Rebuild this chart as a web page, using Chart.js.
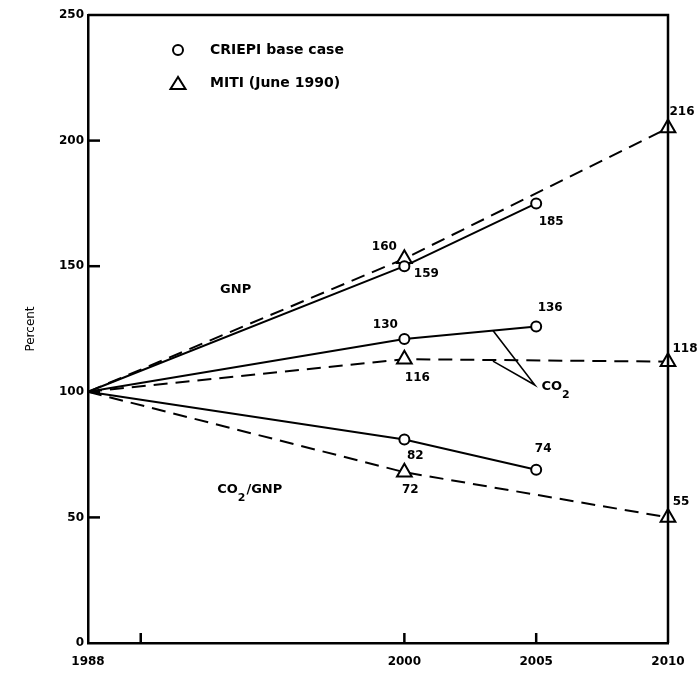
<!DOCTYPE html>
<html><head><meta charset="utf-8">
<script src="https://cdn.jsdelivr.net/npm/chart.js@4.4.1/dist/chart.umd.min.js"></script>
<style>html,body{margin:0;padding:0;background:#fff;}</style>
</head><body>
<canvas id="c" width="698" height="677"></canvas>
<script>
// ---- data ----
const yearsCriepi = [1988, 2000, 2005];
const yearsMiti   = [1988, 2000, 2010];
const gnpCriepi   = [100, 150, 175];
const gnpMiti     = [100, 153, 205];
const co2Criepi   = [100, 121, 126];
const co2Miti     = [100, 113, 112];
const ratioCriepi = [100, 81, 69];
const ratioMiti   = [100, 68, 50];
// printed value labels
const gnpCriepiLabels   = ['', '159', '185'];
const gnpMitiLabels     = ['', '160', '216'];
const co2CriepiLabels   = ['', '130', '136'];
const co2MitiLabels     = ['', '116', '118'];
const ratioCriepiLabels = ['', '82', '74'];
const ratioMitiLabels   = ['', '72', '55'];
// ticks
const yTicks = [0, 50, 100, 150, 200, 250];
const xTicks = [1988, 1990, 2000, 2005, 2010];
const xTickLabels = ['1988', '', '2000', '2005', '2010'];
const legendNames = ['CRIEPI base case', 'MITI (June 1990)'];

const FONT = '"DejaVu Sans", Arial, sans-serif';
const pts = (xs, ys) => xs.map((x, i) => ({x: x, y: ys[i]}));

function solid(ys, labels) {
  return {data: pts(yearsCriepi, ys), valueLabels: labels,
    borderColor: '#000', borderWidth: 2, pointStyle: 'circle',
    pointRadius: [0, 5, 5], pointBorderWidth: 2, pointBorderColor: '#000',
    pointBackgroundColor: '#fff', fill: false, tension: 0, clip: false};
}
function dashed(ys, labels) {
  return {data: pts(yearsMiti, ys), valueLabels: labels,
    borderColor: '#000', borderWidth: 2, borderDash: [14, 8], pointStyle: 'triangle',
    pointRadius: [0, 8.5, 8.5], pointBorderWidth: 2, pointBorderColor: '#000',
    pointBackgroundColor: '#fff', fill: false, tension: 0, clip: false};
}

// label offsets (pixels) relative to the point
const labelOffsets = [
  [[0,0],[22,8],[15,18]],     // gnp criepi
  [[0,0],[-20,-12],[14,-16]], // gnp miti
  [[0,0],[-19,-14],[14,-19]], // co2 criepi
  [[0,0],[13,19],[17,-13]],   // co2 miti
  [[0,0],[11,16],[7,-21]],    // ratio criepi
  [[0,0],[6,18],[13,-16]]     // ratio miti
];

function subText(ctx, parts, x, y) {
  ctx.textAlign = 'left'; ctx.textBaseline = 'middle';
  let cx = x;
  parts.forEach(p => {
    ctx.font = p[1] ? 'bold 11px ' + FONT : 'bold 13px ' + FONT;
    ctx.fillText(p[0], cx, p[1] ? y + 8 : y);
    cx += ctx.measureText(p[0]).width + (p[1] ? 1 : 0);
  });
}

const decor = {
  id: 'decor',
  afterDatasetsDraw(chart) {
    const {ctx, chartArea: a, scales: {x, y}} = chart;
    ctx.save();
    ctx.strokeStyle = '#000'; ctx.fillStyle = '#000';
    // frame top/right
    ctx.lineWidth = 2.5;
    ctx.beginPath();
    ctx.moveTo(a.left, a.top); ctx.lineTo(a.right, a.top); ctx.lineTo(a.right, a.bottom);
    ctx.stroke();
    // inward ticks
    yTicks.forEach(v => {
      if (v === 0 || v === 250) return;
      const py = y.getPixelForValue(v);
      ctx.beginPath(); ctx.moveTo(a.left, py); ctx.lineTo(a.left + 12, py); ctx.stroke();
    });
    xTicks.forEach(v => {
      if (v === 1988 || v === 2010) return;
      const px = x.getPixelForValue(v);
      ctx.beginPath(); ctx.moveTo(px, a.bottom); ctx.lineTo(px, a.bottom - 10); ctx.stroke();
    });
    // legend
    const lx = a.left + 90;
    ctx.lineWidth = 2;
    ctx.beginPath(); ctx.arc(lx, 50, 5, 0, Math.PI * 2); ctx.stroke();
    ctx.beginPath(); ctx.moveTo(lx, 77); ctx.lineTo(lx - 7.5, 89); ctx.lineTo(lx + 7.5, 89); ctx.closePath(); ctx.stroke();
    ctx.font = 'bold 14px ' + FONT; ctx.textAlign = 'left'; ctx.textBaseline = 'middle';
    ctx.fillText(legendNames[0], lx + 32, 50);
    ctx.fillText(legendNames[1], lx + 32, 83);
    // value labels
    ctx.font = 'bold 12px ' + FONT; ctx.textAlign = 'center'; ctx.textBaseline = 'middle';
    chart.data.datasets.forEach((ds, i) => {
      const meta = chart.getDatasetMeta(i);
      meta.data.forEach((el, j) => {
        const t = ds.valueLabels[j];
        if (!t) return;
        const o = labelOffsets[i][j];
        ctx.fillText(t, el.x + o[0], el.y + o[1]);
      });
    });
    // series annotations
    ctx.font = 'bold 13px ' + FONT; ctx.textAlign = 'center';
    ctx.fillText('GNP', x.getPixelForValue(1993.6), y.getPixelForValue(140.5));
    subText(ctx, [['CO', false], ['2', true], ['/GNP', false]], x.getPixelForValue(1992.9), y.getPixelForValue(61));
    subText(ctx, [['CO', false], ['2', true]], x.getPixelForValue(2005.2), y.getPixelForValue(102));
    // CO2 leader lines
    ctx.lineWidth = 1.6;
    const ax = x.getPixelForValue(2004.95), ay = y.getPixelForValue(102.7);
    ctx.beginPath();
    ctx.moveTo(x.getPixelForValue(2003.36), y.getPixelForValue(124.4)); ctx.lineTo(ax, ay);
    ctx.lineTo(x.getPixelForValue(2003.36), y.getPixelForValue(112.2));
    ctx.stroke();
    ctx.restore();
  }
};

new Chart(document.getElementById('c').getContext('2d'), {
  type: 'line',
  data: {datasets: [
    solid(gnpCriepi, gnpCriepiLabels), dashed(gnpMiti, gnpMitiLabels),
    solid(co2Criepi, co2CriepiLabels), dashed(co2Miti, co2MitiLabels),
    solid(ratioCriepi, ratioCriepiLabels), dashed(ratioMiti, ratioMitiLabels)
  ]},
  options: {
    responsive: false, animation: false, devicePixelRatio: 1,
    layout: {padding: {top: 15, right: 30, left: 0, bottom: 0}},
    plugins: {legend: {display: false}, tooltip: {enabled: false}},
    scales: {
      x: {type: 'linear', min: 1988, max: 2010,
        afterBuildTicks: s => { s.ticks = xTicks.map(v => ({value: v})); },
        ticks: {autoSkip: false, maxRotation: 0, padding: 12, color: '#000',
          font: {family: FONT, size: 12, weight: 'bold'},
          callback: v => xTickLabels[xTicks.indexOf(v)]},
        grid: {display: false, drawTicks: false, tickLength: 0},
        border: {display: true, color: '#000', width: 2.5},
        afterFit: s => { s.height = 34; }
      },
      y: {min: 0, max: 250,
        afterBuildTicks: s => { s.ticks = yTicks.map(v => ({value: v})); },
        ticks: {padding: 4, color: '#000', font: {family: FONT, size: 12, weight: 'bold'}},
        grid: {display: false, drawTicks: false, tickLength: 0},
        border: {display: true, color: '#000', width: 2.5},
        title: {display: true, text: 'Percent', color: '#000',
          font: {family: FONT, size: 12}, padding: {top: 24, bottom: 0}},
        afterFit: s => { s.width = 88; }
      }
    }
  },
  plugins: [decor]
});
</script>
</body></html>
